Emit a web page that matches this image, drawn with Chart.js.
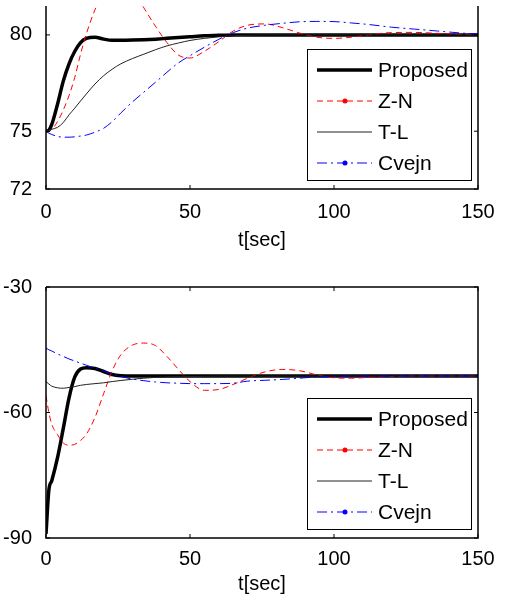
<!DOCTYPE html>
<html>
<head>
<meta charset="utf-8">
<script src="https://cdn.jsdelivr.net/npm/chart.js@4.4.0/dist/chart.umd.min.js"></script>
<style>
  html, body { margin: 0; padding: 0; background: #fff; }
  .wrap { position: absolute; left: 0; width: 505px; }
  #w1 { top: 0; height: 258px; }
  #w2 { top: 258px; height: 342px; }
</style>
</head>
<body>
<div class="wrap" id="w1"><canvas id="chart1"></canvas></div>
<div class="wrap" id="w2"><canvas id="chart2"></canvas></div>
<script>
const time = [0, 1, 2, 4, 6, 8, 10, 12, 14, 17, 20, 23, 26, 30, 34, 38, 42, 46, 50, 55, 60, 65, 70, 76, 82, 88, 94, 100, 106, 112, 120, 128, 136, 144, 150];
const seriesNames = ['Proposed', 'Z-N', 'T-L', 'Cvejn'];
const xTicks = [0, 50, 100, 150];
const yTicksTop = [72, 75, 80];
const yTicksBottom = [-90, -60, -30];
const xLabel = 't[sec]';

// upper plot
const proposedTop = [75, 75.05, 75.35, 76.4, 77.6, 78.5, 79.15, 79.6, 79.82, 79.88, 79.78, 79.72, 79.72, 79.73, 79.75, 79.78, 79.82, 79.86, 79.9, 79.95, 79.98, 80, 80, 80, 80, 80, 80, 80, 80, 80, 80, 80, 80, 80, 80];
const znTop = [75, 75.02, 75.1, 75.5, 76.1, 76.85, 77.8, 79.0, 80.05, 81.3, 82.2, 82.7, 82.8, 82.4, 81.4, 80.45, 79.6, 78.95, 78.8, 79.15, 79.65, 80.2, 80.5, 80.57, 80.38, 80.1, 79.88, 79.82, 79.88, 80.0, 80.12, 80.13, 80.08, 80.03, 80.0];
const tlTop = [75, 75.05, 75.1, 75.2, 75.45, 75.85, 76.2, 76.57, 76.93, 77.45, 77.88, 78.22, 78.5, 78.77, 79.0, 79.23, 79.43, 79.58, 79.71, 79.82, 79.9, 79.95, 79.98, 80, 80, 80, 80, 80, 80, 80, 80, 80, 80, 80, 80];
const cvejnTop = [75, 74.9, 74.83, 74.73, 74.69, 74.69, 74.71, 74.75, 74.8, 74.95, 75.15, 75.5, 75.95, 76.52, 77.03, 77.54, 78.06, 78.55, 78.92, 79.36, 79.77, 80.12, 80.35, 80.5, 80.6, 80.68, 80.7, 80.69, 80.62, 80.54, 80.4, 80.3, 80.2, 80.1, 80.05];

// lower plot
const proposedBottom = [-89, -78.5, -76.3, -70.8, -63.8, -56.5, -51.5, -49.6, -49.3, -49.5, -50.2, -50.9, -51.2, -51.3, -51.3, -51.3, -51.3, -51.3, -51.3, -51.3, -51.3, -51.3, -51.3, -51.3, -51.3, -51.3, -51.3, -51.3, -51.3, -51.3, -51.3, -51.3, -51.3, -51.3, -51.3];
const znBottom = [-56.0, -60.0, -62.8, -65.3, -67.3, -67.8, -67.6, -66.7, -65.2, -61.2, -55.5, -50.0, -46.2, -43.9, -43.4, -44.0, -46.6, -49.7, -52.6, -54.7, -54.5, -53.3, -51.8, -50.3, -49.7, -50.0, -51.0, -51.7, -51.8, -51.6, -51.4, -51.3, -51.3, -51.3, -51.3];
const tlBottom = [-52.6, -53.2, -53.7, -54.1, -54.2, -54.0, -53.8, -53.5, -53.3, -53.1, -52.9, -52.6, -52.35, -52.05, -51.8, -51.6, -51.5, -51.45, -51.4, -51.35, -51.3, -51.3, -51.3, -51.3, -51.3, -51.3, -51.3, -51.3, -51.3, -51.3, -51.3, -51.3, -51.3, -51.3, -51.3];
const cvejnBottom = [-44.6, -45.0, -45.3, -46.0, -46.6, -47.2, -47.7, -48.2, -48.7, -49.4, -50.1, -50.8, -51.4, -52.0, -52.4, -52.7, -52.9, -53.0, -53.1, -53.1, -53.1, -53.0, -52.5, -52.3, -52.1, -51.8, -51.5, -51.4, -51.3, -51.3, -51.3, -51.3, -51.3, -51.3, -51.3];

const FONT = "'Liberation Sans', Arial, sans-serif";
const styles = [
  { borderColor: '#000', borderWidth: 3.5, borderDash: [] },
  { borderColor: 'rgb(255,0,0)', borderWidth: 1, borderDash: [6, 4] },
  { borderColor: '#222', borderWidth: 1, borderDash: [] },
  { borderColor: 'rgb(0,0,255)', borderWidth: 1, borderDash: [10, 4, 2, 4] }
];
const legendDots = [false, true, false, true];

function makeDatasets(seriesList) {
  return seriesList.map((vals, i) => ({
    label: seriesNames[i],
    data: time.map((t, k) => ({ x: t, y: vals[k] })),
    borderColor: styles[i].borderColor,
    borderWidth: styles[i].borderWidth,
    borderDash: styles[i].borderDash,
    pointRadius: 0,
    cubicInterpolationMode: 'monotone',
    fill: false
  })).reverse();  // draw Proposed on top
}

// axes box with inward ticks like the original figure
const framePlugin = {
  id: 'frame',
  afterDatasetsDraw(chart, args, opts) {
    const { ctx, chartArea: a, scales } = chart;
    ctx.save();
    ctx.strokeStyle = '#000';
    ctx.lineWidth = 1.5;
    ctx.beginPath();
    ctx.moveTo(a.left, a.top);
    ctx.lineTo(a.left, a.bottom);
    ctx.lineTo(a.right, a.bottom);
    ctx.lineTo(a.right, a.top);
    if (opts.top) ctx.lineTo(a.left, a.top);
    ctx.stroke();
    ctx.lineWidth = 1;
    ctx.beginPath();
    scales.x.ticks.forEach(t => {
      const x = scales.x.getPixelForValue(t.value);
      ctx.moveTo(x, a.bottom); ctx.lineTo(x, a.bottom - 4);
      if (opts.top) { ctx.moveTo(x, a.top); ctx.lineTo(x, a.top + 4); }
    });
    scales.y.ticks.forEach(t => {
      const y = scales.y.getPixelForValue(t.value);
      ctx.moveTo(a.left, y); ctx.lineTo(a.left + 4, y);
      ctx.moveTo(a.right, y); ctx.lineTo(a.right - 4, y);
    });
    ctx.stroke();
    ctx.restore();
  }
};

// legend box inside the plot, lower right
const boxLegend = {
  id: 'boxLegend',
  afterDraw(chart) {
    const { ctx, chartArea: a } = chart;
    const w = 164, h = 131;
    const left = a.right - 7 - w, top = a.bottom - 9 - h;
    ctx.save();
    ctx.fillStyle = '#fff';
    ctx.fillRect(left, top, w, h);
    ctx.strokeStyle = '#000';
    ctx.lineWidth = 1;
    ctx.strokeRect(left + 0.5, top + 0.5, w, h);
    seriesNames.forEach((name, i) => {
      const y = top + 21 + i * 31;
      const s = styles[i];
      ctx.beginPath();
      ctx.setLineDash(s.borderDash);
      ctx.lineWidth = s.borderWidth;
      ctx.strokeStyle = s.borderColor;
      ctx.moveTo(left + 10, y);
      ctx.lineTo(left + 65, y);
      ctx.stroke();
      ctx.setLineDash([]);
      if (legendDots[i]) {
        ctx.beginPath();
        ctx.fillStyle = s.borderColor;
        ctx.arc(left + 38, y, 2.5, 0, Math.PI * 2);
        ctx.fill();
      }
      ctx.fillStyle = '#000';
      ctx.font = '21px ' + FONT;
      ctx.textBaseline = 'middle';
      ctx.textAlign = 'left';
      ctx.fillText(name, left + 71, y + 1);
    });
    ctx.restore();
  }
};

function makeChart(id, seriesList, yMin, yMax, yTicks, cfg) {
  return new Chart(document.getElementById(id), {
    type: 'line',
    data: { datasets: makeDatasets(seriesList) },
    options: {
      responsive: true,
      maintainAspectRatio: false,
      animation: false,
      layout: { padding: { top: cfg.padTop, right: 27, left: 0, bottom: 0 } },
      plugins: {
        legend: { display: false },
        tooltip: { enabled: false },
        frame: { top: cfg.frameTop }
      },
      scales: {
        x: {
          type: 'linear',
          min: 0,
          max: 150,
          afterBuildTicks: s => { s.ticks = xTicks.map(v => ({ value: v })); },
          afterFit: s => { s.height = cfg.xHeight; s.paddingLeft = 0; s.paddingRight = 0; },
          grid: { display: false },
          border: { display: false },
          ticks: { color: '#000', font: { family: FONT, size: 20 }, padding: cfg.tickPad, maxRotation: 0 },
          title: { display: true, text: xLabel, color: '#000', font: { family: FONT, size: 20 }, padding: { top: 0, bottom: cfg.titlePad } }
        },
        y: {
          min: yMin,
          max: yMax,
          afterBuildTicks: s => { s.ticks = yTicks.map(v => ({ value: v })); },
          afterFit: s => { s.width = 46; s.paddingTop = 0; s.paddingBottom = 0; },
          grid: { display: false },
          border: { display: false },
          ticks: { color: '#000', font: { family: FONT, size: 20 }, padding: 6 }
        }
      }
    },
    plugins: [framePlugin, boxLegend]
  });
}

makeChart('chart1', [proposedTop, znTop, tlTop, cvejnTop], 72, 81.5, yTicksTop,
  { padTop: 6, xHeight: 69, tickPad: 3, titlePad: 6, frameTop: false });
makeChart('chart2', [proposedBottom, znBottom, tlBottom, cvejnBottom], -90, -30, yTicksBottom,
  { padTop: 29, xHeight: 62, tickPad: 1, titlePad: 4, frameTop: true });
</script>
</body>
</html>
